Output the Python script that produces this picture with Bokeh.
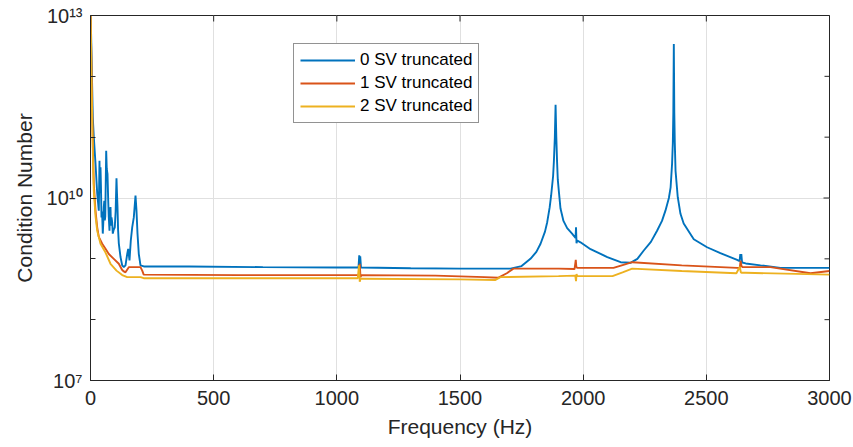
import math
from bokeh.plotting import figure
from bokeh.models import (FixedTicker, Legend, LegendItem, CustomJSTickFormatter,
                          ColumnDataSource)
from bokeh.embed import file_html
from bokeh.resources import INLINE

# ---------------- data ----------------
freq_0sv = [0, 9.3, 13.4, 20.3, 27.2, 33.7, 36.5, 38.0, 40.6, 42.5, 44.7, 47.0, 49.9, 52.0,
            54.0, 56.0, 58.0, 60.0, 63.7, 66.0, 69.0, 71.9, 74.0, 77.1, 79.0, 81.2, 83.0,
            85.2, 88.0, 90.5, 94.0, 98.6, 102.0, 105.5, 107.5, 109.6, 112.0, 114.9, 121.8,
            128.7, 135.2, 142.1, 149.0, 153.0, 158.3, 163.6, 169.3, 175.8, 182.7, 186.7,
            190.8, 196.1, 203.0, 216.4, 400, 700, 1000, 1088, 1091, 1093, 1095, 1098, 1300,
            1500, 1650, 1705, 1750, 1786, 1810, 1827, 1845, 1854, 1864, 1870, 1878, 1881,
            1885, 1888, 1891, 1894, 1897, 1902, 1908, 1920, 1935, 1955, 1969, 1971, 1973,
            1976, 1989, 2030, 2098, 2152, 2192, 2220, 2246, 2275, 2300, 2320, 2334, 2348,
            2355, 2361, 2364, 2366, 2368, 2370, 2372, 2375, 2384, 2395, 2408, 2449, 2503,
            2557, 2625, 2635, 2638, 2640, 2642, 2645, 2660, 2720, 2801, 3000]
cond_0sv = [1.5e13, 2.1e11, 1.0e11, 3.7e10, 1.2e10, 6.2e9, 4.1e10, 1.2e10, 3.2e10, 1.5e10,
            4.8e9, 6.0e9, 2.6e9, 4.0e9, 7.1e9, 9.0e9, 4.3e9, 5.0e9, 6.0e10, 3.0e10, 2.5e10,
            9.1e9, 5.0e9, 2.9e9, 6.0e9, 7.1e9, 3.5e9, 4.8e9, 4.0e9, 2.6e9, 3.0e9, 3.3e9,
            6.0e9, 2.1e10, 1.2e10, 7.1e9, 3.0e9, 1.8e9, 1.07e9, 7.8e8, 7.3e8, 7.8e8, 1.2e9,
            1.46e9, 9.4e8, 2.0e9, 3.3e9, 4.8e9, 1.1e10, 6.2e9, 2.6e9, 1.2e9, 7.8e8, 7.5e8,
            7.5e8, 7.3e8, 7.2e8, 7.2e8, 1.14e9, 7.0e8, 1.1e9, 7.2e8, 7.0e8, 6.9e8, 6.9e8,
            6.9e8, 7.6e8, 1.0e9, 1.3e9, 1.77e9, 2.8e9, 4.0e9, 7.0e9, 1.1e10, 2.3e10, 3.9e10,
            1.0e11, 3.4e11, 1.0e11, 4.0e10, 2.0e10, 1.2e10, 6.7e9, 4.2e9, 3.2e9, 2.6e9,
            2.2e9, 3.3e9, 1.8e9, 2.0e9, 1.87e9, 1.44e9, 1.07e9, 8.8e8, 8.6e8, 1.0e9, 1.37e9,
            1.9e9, 2.9e9, 4.2e9, 6.2e9, 1.0e10, 1.5e10, 3.7e10, 8.0e10, 2.5e11, 3.4e12,
            2.5e11, 8.0e10, 2.8e10, 1.03e10, 5.5e9, 3.8e9, 2.1e9, 1.55e9, 1.24e9, 9.6e8,
            9.2e8, 1.2e9, 1.0e9, 1.2e9, 8.7e8, 8.4e8, 7.8e8, 7.1e8, 7.1e8]

freq_1sv = [0, 6, 10, 13.4, 20.3, 27.2, 33.7, 47.5, 60.9, 74.3, 94.6, 114.9, 128, 135.2,
            142, 155.5, 203, 210, 216, 600, 1085, 1090, 1093, 1096, 1100, 1400, 1600, 1656,
            1690, 1717, 1900, 1965, 1970, 1972, 1975, 2000, 2123, 2160, 2199, 2400, 2625,
            2636, 2639, 2642, 2646, 2660, 2760, 2923, 3000]
cond_1sv = [1.5e13, 4.0e11, 6.0e10, 1.7e10, 6.2e9, 3.3e9, 2.3e9, 1.77e9, 1.46e9, 1.2e9,
            1.0e9, 8.3e8, 6.6e8, 6.2e8, 6.0e8, 7.3e8, 7.3e8, 6.4e8, 5.5e8, 5.4e8, 5.4e8,
            5.0e8, 8.3e8, 5.0e8, 5.4e8, 5.3e8, 5.0e8, 4.9e8, 5.8e8, 6.9e8, 6.9e8, 6.8e8,
            9.6e8, 7.5e8, 7.1e8, 7.1e8, 7.1e8, 7.9e8, 8.8e8, 7.8e8, 7.1e8, 7.1e8, 9.3e8,
            7.8e8, 7.3e8, 7.3e8, 7.3e8, 5.8e8, 6.3e8]

freq_2sv = [0, 6, 10, 13.4, 20.3, 27.2, 40.6, 60.9, 81.2, 105.5, 128.7, 149, 203, 216, 700,
            1085, 1090, 1093, 1096, 1100, 1500, 1644, 1664, 1900, 1968, 1971, 1973, 1976,
            2119, 2160, 2199, 2400, 2622, 2636, 2640, 2644, 2660, 3000]
cond_2sv = [1.5e13, 3.0e11, 4.2e10, 1.3e10, 5.1e9, 2.9e9, 1.77e9, 1.27e9, 8.3e8, 6.4e8,
            5.4e8, 5.0e8, 5.0e8, 4.8e8, 4.8e8, 4.8e8, 7.8e8, 4.2e8, 4.7e8, 4.7e8, 4.6e8,
            4.5e8, 5.0e8, 5.2e8, 5.3e8, 4.3e8, 5.6e8, 5.2e8, 5.2e8, 6.0e8, 6.9e8, 6.3e8,
            5.8e8, 7.4e8, 6.0e8, 5.9e8, 5.9e8, 5.5e8]

series_labels = ["0 SV truncated", "1 SV truncated", "2 SV truncated"]
series_colors = ["#0072BD", "#D95319", "#EDB120"]

x_ticks = [0, 500, 1000, 1500, 2000, 2500, 3000]
x_tick_labels = ["0", "500", "1000", "1500", "2000", "2500", "3000"]
y_ticks = [1e7, 1e10, 1e13]
y_tick_labels = ["10\u2077", "10\u00b9\u2070", "10\u00b9\u00b3"]
y_minor_ticks = [1e8, 1e9, 1e11, 1e12]

FONT = "Liberation Sans"
INK = "#262626"

p = figure(width=853, height=447, x_range=(x_ticks[0], x_ticks[-1]),
           y_range=(y_ticks[0], y_ticks[-1]),
           y_axis_type="log", output_backend="svg", toolbar_location=None,
           min_border_left=90, min_border_right=24, min_border_top=15,
           min_border_bottom=67)
p.outline_line_color = INK
p.outline_line_width = 1
p.background_fill_color = "white"

renderers = []
for fx, cy, c in zip([freq_0sv, freq_1sv, freq_2sv], [cond_0sv, cond_1sv, cond_2sv],
                     series_colors):
    src = ColumnDataSource(dict(f=fx, c=cy))
    r = p.line("f", "c", source=src, line_color=c, line_width=1.9)
    renderers.append(r)

xfmt = CustomJSTickFormatter(args=dict(vals=x_ticks, labs=x_tick_labels), code="""
    for (let i = 0; i < vals.length; i++) { if (Math.abs(vals[i] - tick) < 1e-6) return labs[i]; }
    return "";
""")
yfmt = CustomJSTickFormatter(args=dict(vals=y_ticks, labs=y_tick_labels), code="""
    for (let i = 0; i < vals.length; i++) { if (Math.abs(vals[i] - tick) < 1e-3 * vals[i]) return labs[i]; }
    return "";
""")

def style_axis(ax, ticker, fmt):
    ax.ticker = ticker
    ax.formatter = fmt
    ax.axis_line_color = INK
    ax.axis_line_width = 1
    ax.major_tick_line_color = INK
    ax.minor_tick_line_color = INK
    ax.major_tick_in = 6
    ax.major_tick_out = 0
    ax.minor_tick_in = 5
    ax.minor_tick_out = 0
    ax.major_label_text_font = FONT
    ax.major_label_text_color = INK
    ax.major_label_text_font_size = "20px"
    ax.axis_label_text_font = FONT
    ax.axis_label_text_font_size = "21px"
    ax.axis_label_text_font_style = "normal"
    ax.axis_label_text_color = INK

style_axis(p.xaxis[0], FixedTicker(ticks=x_ticks, minor_ticks=[]), xfmt)
style_axis(p.yaxis[0], FixedTicker(ticks=y_ticks, minor_ticks=y_minor_ticks), yfmt)
p.xaxis[0].major_label_standoff = 10
p.yaxis[0].major_label_standoff = 8
p.xaxis[0].axis_label = "Frequency (Hz)"
p.yaxis[0].axis_label = "Condition Number"
p.xaxis[0].axis_label_standoff = 7
p.yaxis[0].axis_label_standoff = 8

# tick marks on the top and right edges of the box (clipped to the frame)
p.scatter(x=x_ticks, y=[y_ticks[-1]] * len(x_ticks), marker="dash", size=12,
          angle=math.pi / 2, line_color=INK, line_width=1)
p.scatter(x=[x_ticks[-1]] * len(y_ticks), y=y_ticks, marker="dash", size=12,
          angle=0, line_color=INK, line_width=1)
p.scatter(x=[x_ticks[-1]] * len(y_minor_ticks), y=y_minor_ticks, marker="dash", size=10,
          angle=0, line_color=INK, line_width=1)

p.xgrid.ticker = FixedTicker(ticks=x_ticks)
p.ygrid.ticker = FixedTicker(ticks=y_ticks)
for g in (p.xgrid, p.ygrid):
    g.grid_line_color = "#e0e0e0"
    g.grid_line_width = 1

legend = Legend(items=[LegendItem(label=l, renderers=[r])
                       for l, r in zip(series_labels, renderers)],
                location=(203, 257))
legend.label_text_font = FONT
legend.label_text_font_size = "17px"
legend.label_text_color = "black"
legend.glyph_width = 55
legend.glyph_height = 20
legend.label_height = 20
legend.label_standoff = 5
legend.spacing = 3
legend.padding = 6
legend.margin = 0
legend.border_line_color = INK
legend.border_line_width = 1
legend.background_fill_color = "white"
legend.background_fill_alpha = 1
p.add_layout(legend)

open("out.html", "w").write(file_html(p, INLINE))
